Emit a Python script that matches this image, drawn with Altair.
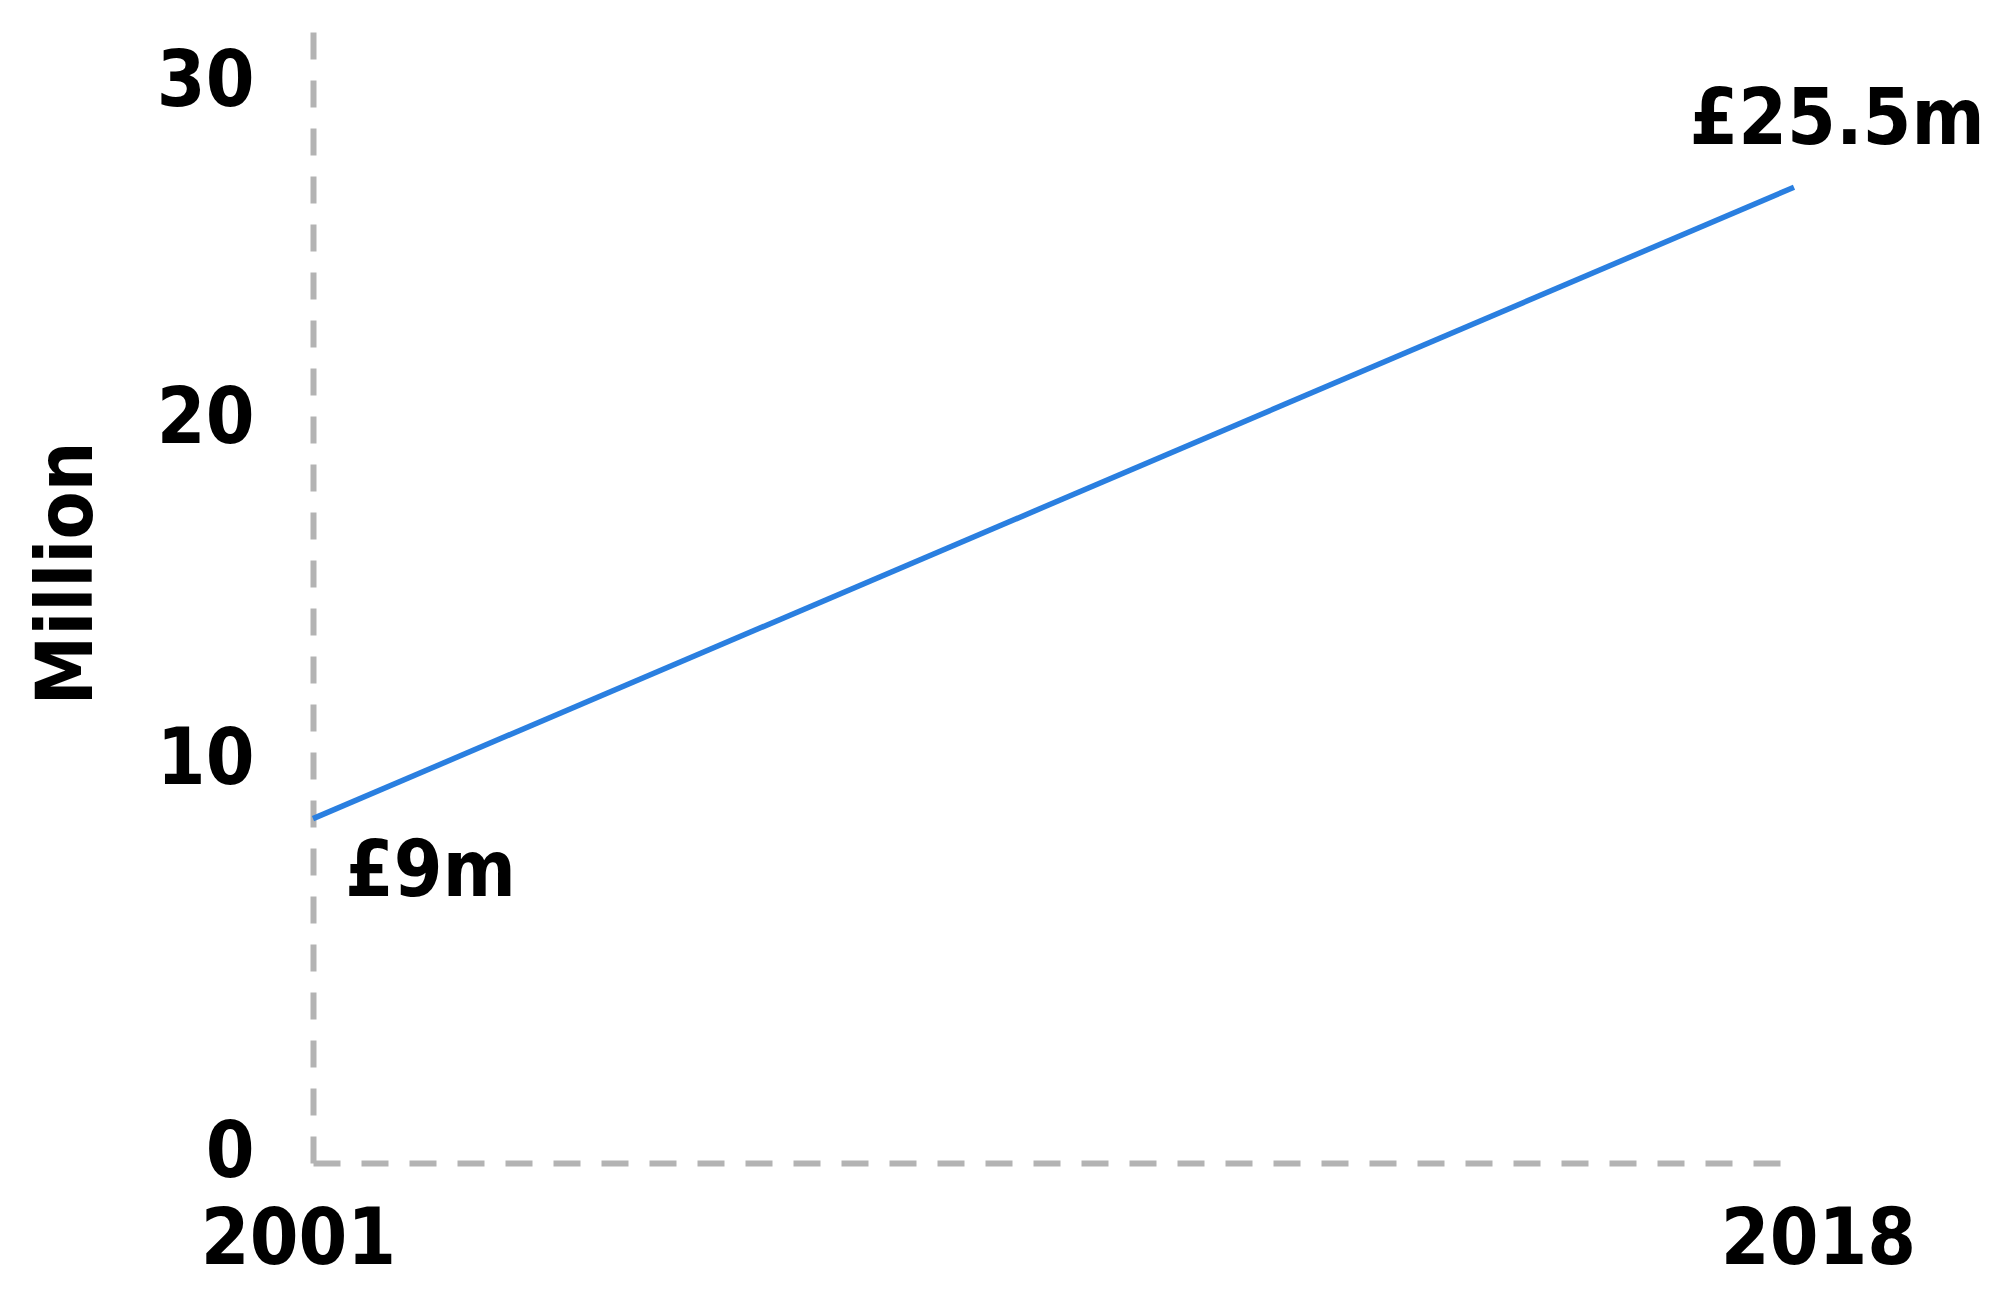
import altair as alt
import pandas as pd

years = [2001, 2018]
values = [9, 25.5]
labels = ["£9m", "£25.5m"]
y_ticks = [0, 10, 20, 30]
x_ticks = [2001, 2018]

FONT = "Liberation Sans Narrow, DejaVu Sans Condensed, sans-serif"
FS = 78
GRAY = "#b3b3b3"
BLUE = "#2a7fe0"

df = pd.DataFrame({"year": years, "value": values, "label": labels})

x_enc = alt.X(
    "year:Q",
    scale=alt.Scale(domain=[2001, 2018], nice=False, zero=False),
    axis=alt.Axis(
        values=x_ticks, format="d", title=None, grid=False, ticks=False, tickSize=0,
        domainColor=GRAY, domainWidth=6, domainDash=[27, 21],
        labelFont=FONT, labelFontSize=FS, labelFontWeight="bold", labelColor="black",
        labelBaseline="alphabetic", labelPadding=100, labelFlush=False, labelLimit=0,
        labelOffset={"condition": {"test": "datum.value == 2001", "value": -15}, "value": 24},
    ),
)
y_enc = alt.Y(
    "value:Q",
    scale=alt.Scale(domain=[0, 30], nice=False),
    axis=alt.Axis(
        values=y_ticks, title="Million", grid=False, ticks=False, tickSize=0,
        domainColor=GRAY, domainWidth=6, domainDash=[27, 21],
        labelFont=FONT, labelFontSize=FS, labelFontWeight="bold", labelColor="black",
        labelBaseline="middle", labelPadding=59, labelFlush=False, labelLimit=0,
        labelOffset={"condition": [
            {"test": "datum.value == 30", "value": 67},
            {"test": "datum.value == 20", "value": 22},
            {"test": "datum.value == 10", "value": -20},
        ], "value": -10},
        titleFont=FONT, titleFontSize=FS, titleFontWeight="bold", titleColor="black",
        titleAngle=270, titleAlign="center", titleBaseline="middle",
        titleX=-245, titleY=558, titleLimit=0,
    ),
)

base = alt.Chart(df)
line = base.mark_line(color=BLUE, strokeWidth=5.5).encode(x=x_enc, y=y_enc)

txt_start = base.transform_filter("datum.year == 2001").mark_text(
    font=FONT, fontSize=FS, fontWeight="bold", color="black",
    align="left", baseline="alphabetic", dx=32, dy=77,
).encode(x="year:Q", y="value:Q", text="label:N")

txt_end = base.transform_filter("datum.year == 2018").mark_text(
    font=FONT, fontSize=FS, fontWeight="bold", color="black",
    align="center", baseline="alphabetic", dx=43, dy=-43,
).encode(x="year:Q", y="value:Q", text="label:N")

chart = alt.layer(line, txt_start, txt_end).properties(
    width=1481, height=1148,
    padding={"left": 305, "top": 7, "right": 205, "bottom": 118},
    autosize=alt.AutoSizeParams(type="none"),
    background="white",
).configure_view(stroke=None, strokeOpacity=0, strokeWidth=0)

chart.save("out.html", embed_options={"renderer": "svg", "actions": False})
